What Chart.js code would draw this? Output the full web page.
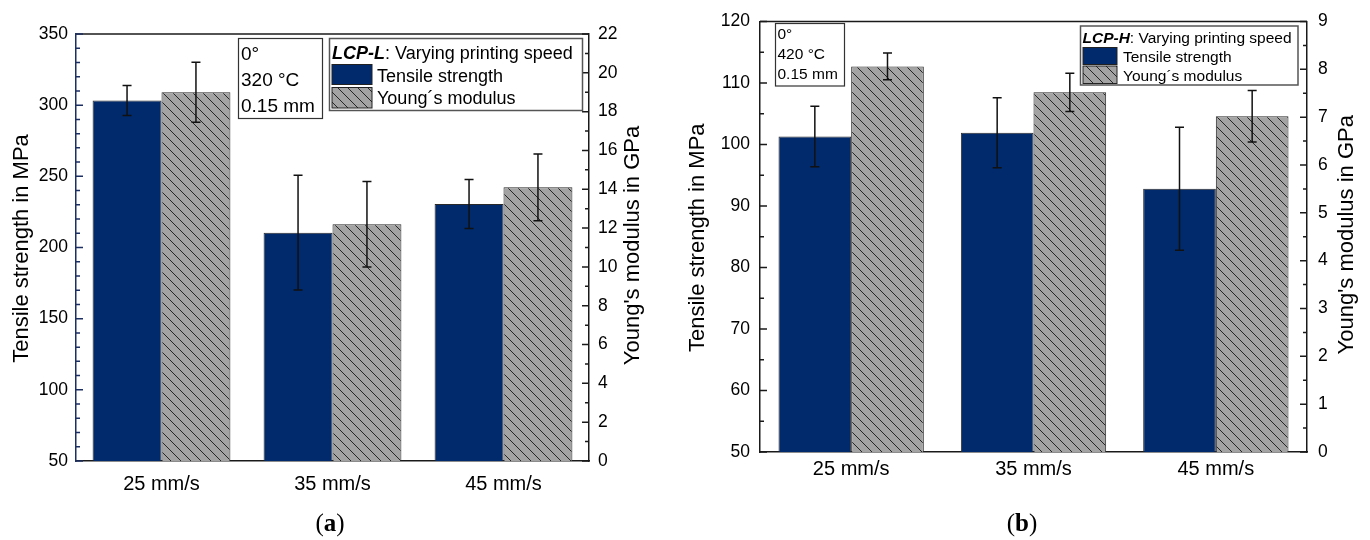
<!DOCTYPE html>
<html>
<head>
<meta charset="utf-8">
<script src="https://cdn.jsdelivr.net/npm/chart.js@4.4.1/dist/chart.umd.min.js"></script>
<style>
  html, body { margin: 0; padding: 0; background: #fff; }
  body { width: 1370px; height: 540px; position: relative; overflow: hidden; }
  .panel { position: absolute; top: 0; height: 540px; }
  .cap { position: absolute; top: 509px; width: 60px; text-align: center;
         font-family: 'Liberation Serif', 'Times New Roman', serif; font-size: 25px;
         line-height: 28px; color: #000; }
</style>
</head>
<body>
<div class="panel" style="left:0;width:680px"><canvas id="chartA" width="680" height="540"></canvas></div>
<div class="panel" style="left:680px;width:690px"><canvas id="chartB" width="690" height="540"></canvas></div>
<div class="cap" style="left:300px">(<b>a</b>)</div>
<div class="cap" style="left:992px">(<b>b</b>)</div>
<script>
// ---- data ----
const speeds = ['25 mm/s', '35 mm/s', '45 mm/s'];
const seriesNames = ['Tensile strength', 'Young\u00B4s modulus'];

// LCP-L
const lcpLStrength = [303.3, 210.4, 230.5];
const lcpLStrengthErr = [10.5, 40.3, 17.2];
const lcpLModulus = [19.0, 12.2, 14.1];
const lcpLModulusErr = [1.55, 2.2, 1.72];
const lcpLStrengthTicks = [50, 100, 150, 200, 250, 300, 350];
const lcpLModulusTicks = [0, 2, 4, 6, 8, 10, 12, 14, 16, 18, 20, 22];
const lcpLConditions = ['0°', '320 °C', '0.15 mm'];

// LCP-H
const lcpHStrength = [101.3, 101.9, 92.8];
const lcpHStrengthErr = [4.9, 5.7, 10.0];
const lcpHModulus = [8.06, 7.52, 7.02];
const lcpHModulusErr = [0.28, 0.40, 0.54];
const lcpHStrengthTicks = [50, 60, 70, 80, 90, 100, 110, 120];
const lcpHModulusTicks = [0, 1, 2, 3, 4, 5, 6, 7, 8, 9];
const lcpHConditions = ['0°', '420 °C', '0.15 mm'];

// ---- styling helpers ----
const FONT = "'Liberation Sans', Arial, sans-serif";
const NAVY = '#012a6c';

function hatchFill() {
  const s = 10;
  const c = document.createElement('canvas');
  c.width = s; c.height = s;
  const g = c.getContext('2d');
  g.fillStyle = '#a3a3a3';
  g.fillRect(0, 0, s, s);
  g.strokeStyle = '#262626';
  g.lineWidth = 1;
  g.beginPath();
  g.moveTo(0, 0); g.lineTo(s, s);
  g.moveTo(-1, s - 1); g.lineTo(1, s + 1);
  g.moveTo(s - 1, -1); g.lineTo(s + 1, 1);
  g.stroke();
  return g.createPattern(c, 'repeat');
}
const HATCH = hatchFill();

function valueAxis(position, ticksArr, width, pad, borderColor) {
  return {
    type: 'linear',
    position: position,
    min: ticksArr[0],
    max: ticksArr[ticksArr.length - 1],
    afterBuildTicks: s => { s.ticks = ticksArr.map(v => ({ value: v })); },
    afterFit: s => { s.width = width; },
    grid: { display: false, drawTicks: false },
    border: { display: true, color: borderColor, width: 1.5 },
    ticks: { color: '#000', font: { family: FONT, size: 17.5 }, padding: pad },
    z: 1
  };
}

function drawAxisTicks(ctx, scale, values, minor, x0, dir, color) {
  ctx.save();
  ctx.strokeStyle = color;
  ctx.lineWidth = 1.5;
  ctx.beginPath();
  for (let i = 0; i < values.length; i++) {
    const y = scale.getPixelForValue(values[i]);
    ctx.moveTo(x0, y); ctx.lineTo(x0 + dir * 7, y);
    if (i < values.length - 1) {
      const step = (values[i + 1] - values[i]) / (minor + 1);
      for (let k = 1; k <= minor; k++) {
        const ym = scale.getPixelForValue(values[i] + k * step);
        ctx.moveTo(x0, ym); ctx.lineTo(x0 + dir * 4, ym);
      }
    }
  }
  ctx.stroke();
  ctx.restore();
}

function rotatedTitle(ctx, text, x, y) {
  ctx.save();
  ctx.translate(x, y);
  ctx.rotate(-Math.PI / 2);
  ctx.font = `22px ${FONT}`;
  ctx.fillStyle = '#000';
  ctx.textAlign = 'center';
  ctx.textBaseline = 'middle';
  ctx.fillText(text, 0, 0);
  ctx.restore();
}

// Decorations per panel: error bars, frame, inward ticks, titles, condition box, legend
function panelDecor(p) {
  return {
    id: 'panelDecor',
    afterDatasetsDraw(chart) {
      const ctx = chart.ctx;
      chart.data.datasets.forEach((ds, i) => {
        const meta = chart.getDatasetMeta(i);
        const scale = chart.scales[ds.yAxisID];
        ctx.save();
        ctx.strokeStyle = '#111';
        ctx.lineWidth = 1.5;
        ctx.beginPath();
        meta.data.forEach((bar, j) => {
          const v = ds.data[j], e = ds.errors[j];
          const yT = scale.getPixelForValue(v + e);
          const yB = scale.getPixelForValue(v - e);
          const x = bar.x;
          ctx.moveTo(x, yT); ctx.lineTo(x, yB);
          ctx.moveTo(x - 4.5, yT); ctx.lineTo(x + 4.5, yT);
          ctx.moveTo(x - 4.5, yB); ctx.lineTo(x + 4.5, yB);
        });
        ctx.stroke();
        ctx.restore();
      });
    },
    afterDraw(chart) {
      const ctx = chart.ctx;
      const a = chart.chartArea;
      // top frame line
      ctx.save();
      ctx.strokeStyle = '#1a1a1a';
      ctx.lineWidth = 1.5;
      ctx.beginPath();
      ctx.moveTo(a.left, a.top); ctx.lineTo(a.right, a.top);
      ctx.stroke();
      ctx.restore();

      // inward ticks
      drawAxisTicks(ctx, chart.scales.yS, p.strengthTicks, p.strengthMinor, a.left, 1, p.leftAxisColor);
      drawAxisTicks(ctx, chart.scales.yM, p.modulusTicks, p.modulusMinor, a.right, -1, '#1a1a1a');

      // axis titles
      const cy = (a.top + a.bottom) / 2;
      rotatedTitle(ctx, 'Tensile strength in MPa', p.leftTitleX, cy + 1);
      rotatedTitle(ctx, "Young's modulus in GPa", p.rightTitleX, cy - 2);

      // process conditions box
      const I = p.info;
      ctx.save();
      ctx.fillStyle = '#fff';
      ctx.fillRect(I.x, I.y, I.w, I.h);
      ctx.strokeStyle = '#333';
      ctx.lineWidth = 1.2;
      ctx.strokeRect(I.x, I.y, I.w, I.h);
      ctx.fillStyle = '#000';
      ctx.font = `${I.size}px ${FONT}`;
      ctx.textAlign = 'left';
      ctx.textBaseline = 'alphabetic';
      p.conditions.forEach((t, k) => ctx.fillText(t, I.tx, I.base[k]));
      ctx.restore();

      // legend
      const L = p.legend;
      ctx.save();
      ctx.fillStyle = '#fff';
      ctx.fillRect(L.x, L.y, L.w, L.h);
      ctx.strokeStyle = '#555';
      ctx.lineWidth = 1.5;
      ctx.strokeRect(L.x, L.y, L.w, L.h);
      ctx.fillStyle = '#000';
      ctx.textAlign = 'left';
      ctx.textBaseline = 'alphabetic';
      ctx.font = `italic bold ${L.size}px ${FONT}`;
      ctx.fillText(p.tag, L.tx0, L.titleBase);
      const tw = ctx.measureText(p.tag).width;
      ctx.font = `${L.size}px ${FONT}`;
      ctx.fillText(': Varying printing speed', L.tx0 + tw, L.titleBase);
      chart.data.datasets.forEach((ds, k) => {
        const r = L.rows[k];
        ctx.fillStyle = ds.backgroundColor;
        ctx.fillRect(L.sx, r.y, L.sw, r.h);
        ctx.strokeStyle = '#222';
        ctx.lineWidth = 1;
        ctx.strokeRect(L.sx, r.y, L.sw, r.h);
        ctx.fillStyle = '#000';
        ctx.fillText(ds.label, L.tx, r.base);
      });
      ctx.restore();
    }
  };
}

function buildPanel(id, p) {
  return new Chart(document.getElementById(id), {
    type: 'bar',
    data: {
      labels: speeds,
      datasets: [
        { label: seriesNames[0], data: p.strength, errors: p.strengthErr, yAxisID: 'yS',
          backgroundColor: NAVY, borderColor: '#2a2a2a', borderWidth: 1 },
        { label: seriesNames[1], data: p.modulus, errors: p.modulusErr, yAxisID: 'yM',
          backgroundColor: HATCH, borderColor: '#2a2a2a', borderWidth: 1 }
      ]
    },
    options: {
      responsive: false,
      animation: false,
      devicePixelRatio: 1,
      layout: { padding: { top: p.top, left: 0, right: 0, bottom: 0 } },
      datasets: { bar: { categoryPercentage: p.groupShare, barPercentage: 1 } },
      plugins: { legend: { display: false }, tooltip: { enabled: false } },
      scales: {
        x: {
          type: 'category',
          grid: { display: false, drawTicks: false },
          border: { display: true, color: '#1a1a1a', width: 1.5 },
          ticks: { color: '#000', font: { family: FONT, size: 20 }, padding: p.xPad, maxRotation: 0 },
          afterFit: s => { s.height = p.xHeight; },
          z: 1
        },
        yS: valueAxis('left', p.strengthTicks, p.leftW, p.leftPad, p.leftAxisColor),
        yM: valueAxis('right', p.modulusTicks, p.rightW, p.rightPad, '#1a1a1a')
      }
    },
    plugins: [panelDecor(p)]
  });
}

buildPanel('chartA', {
  strength: lcpLStrength, strengthErr: lcpLStrengthErr,
  modulus: lcpLModulus, modulusErr: lcpLModulusErr,
  strengthTicks: lcpLStrengthTicks, strengthMinor: 4,
  modulusTicks: lcpLModulusTicks, modulusMinor: 1,
  conditions: lcpLConditions, tag: 'LCP-L',
  top: 34, xHeight: 79, leftW: 76, rightW: 91,
  xPad: 11.5, leftPad: 8, rightPad: 9, groupShare: 0.806,
  leftAxisColor: '#1c2f63',
  leftTitleX: 22, rightTitleX: 633,
  info: { x: 238.5, y: 38.5, w: 84, h: 80, size: 19, tx: 241, base: [60, 86, 112] },
  legend: { x: 329.5, y: 38.5, w: 253, h: 72, size: 18, tx0: 332, titleBase: 58.5,
            sx: 332, sw: 40, tx: 377,
            rows: [{ y: 64.5, h: 20, base: 81.5 }, { y: 87.5, h: 20.5, base: 104 }] }
});

buildPanel('chartB', {
  strength: lcpHStrength, strengthErr: lcpHStrengthErr,
  modulus: lcpHModulus, modulusErr: lcpHModulusErr,
  strengthTicks: lcpHStrengthTicks, strengthMinor: 1,
  modulusTicks: lcpHModulusTicks, modulusMinor: 1,
  conditions: lcpHConditions, tag: 'LCP-H',
  top: 21, xHeight: 88, leftW: 80, rightW: 63,
  xPad: 5, leftPad: 10, rightPad: 11, groupShare: 0.797,
  leftAxisColor: '#1a1a1a',
  leftTitleX: 18, rightTitleX: 667,
  info: { x: 95.5, y: 23.5, w: 69, h: 62.5, size: 15.5, tx: 97.5, base: [39, 59, 79] },
  legend: { x: 400.5, y: 26, w: 217.5, h: 59, size: 15.5, tx0: 402.5, titleBase: 43,
            sx: 403, sw: 34, tx: 443,
            rows: [{ y: 47.5, h: 17, base: 61.5 }, { y: 66, h: 17.5, base: 81 }] }
});
</script>
</body>
</html>
